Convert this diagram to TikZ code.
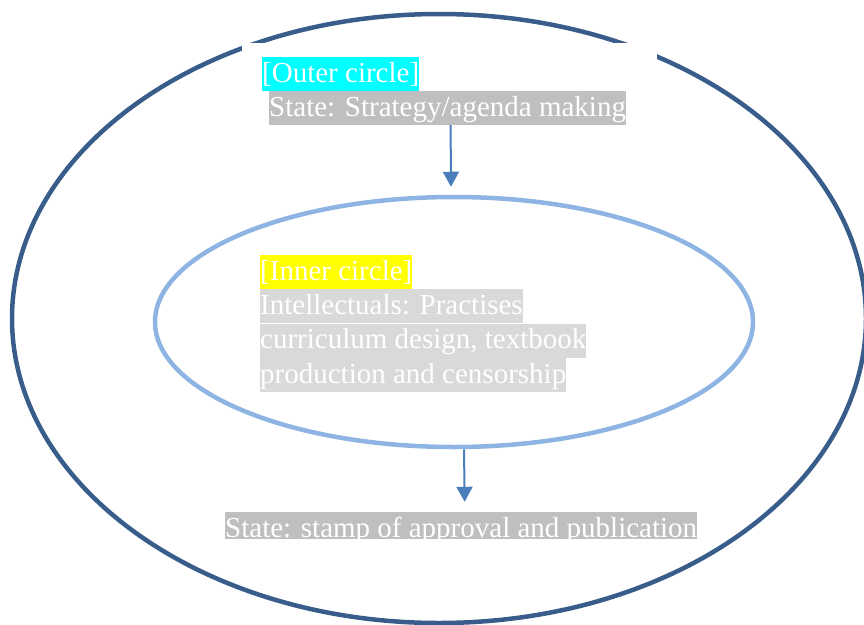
\documentclass[tikz,border=0pt]{standalone}
\usepackage{fontspec}
\setmainfont{Liberation Serif}
\usetikzlibrary{positioning,arrows.meta,shapes.geometric}
\usepackage{xcolor}
\definecolor{OuterBlue}{RGB}{56,93,138}
\definecolor{InnerBlue}{RGB}{141,180,226}
\definecolor{ArrowBlue}{RGB}{74,126,187}
\definecolor{HLGrey}{RGB}{191,191,191}
\definecolor{HLLight}{RGB}{217,217,217}
\definecolor{HLCyan}{RGB}{0,255,255}
\definecolor{HLYellow}{RGB}{255,255,0}

\begin{document}
\begin{tikzpicture}[
x=1pt,y=-1pt,
ring/.style={
ellipse,draw,line width=4.5pt,inner sep=0pt
},
hl/.style={
inner sep=0pt,text=white,font=\fontsize{29}{34}\selectfont,
text height=25pt,text depth=9pt,anchor=base west
},
arrow/.style={-{Triangle[length=15pt,width=16pt]},line width=2pt,draw=ArrowBlue}
]

\path[use as bounding box] (0,0) rectangle (864,624);
\clip (0,0) rectangle (864,624);

\node[ring,draw=OuterBlue,minimum width=854pt,minimum height=609pt] (outer) at (439,318.5) {};

% white text box over the outer ring
\fill[white] (242,43) rectangle (657,125);

\node[hl,fill=HLCyan] (oc) at (262,82) {[Outer circle]};
\node[hl,fill=HLGrey] (s1) at (269,116) {State: Strategy/agenda making};

\node[ring,draw=InnerBlue,minimum width=598pt,minimum height=250pt] (inner) at (454,322) {};

\node[hl,fill=HLYellow] (ic) at (260,280) {[Inner circle]};
\node[hl,fill=HLLight,below=0pt of ic.south west,anchor=north west] (i1) {Intellectuals: Practises};
\node[hl,fill=HLLight,below=0pt of i1.south west,anchor=north west] (i2) {curriculum design, textbook};
\node[hl,fill=HLLight,below=0pt of i2.south west,anchor=north west] (i3) {production and censorship};

\begin{scope}
\clip (0,511) rectangle (864,538);
\node[hl,fill=HLGrey] (s2) at (225,537) {State: stamp of approval and publication};
\end{scope}

\draw[arrow] ([xshift=3pt]s1.south) -- ([xshift=-3pt,yshift=8pt]inner.north);
\draw[arrow] ([xshift=10pt]inner.south) -- ([xshift=3.5pt,yshift=10pt]s2.north);

\end{tikzpicture}
\end{document}
